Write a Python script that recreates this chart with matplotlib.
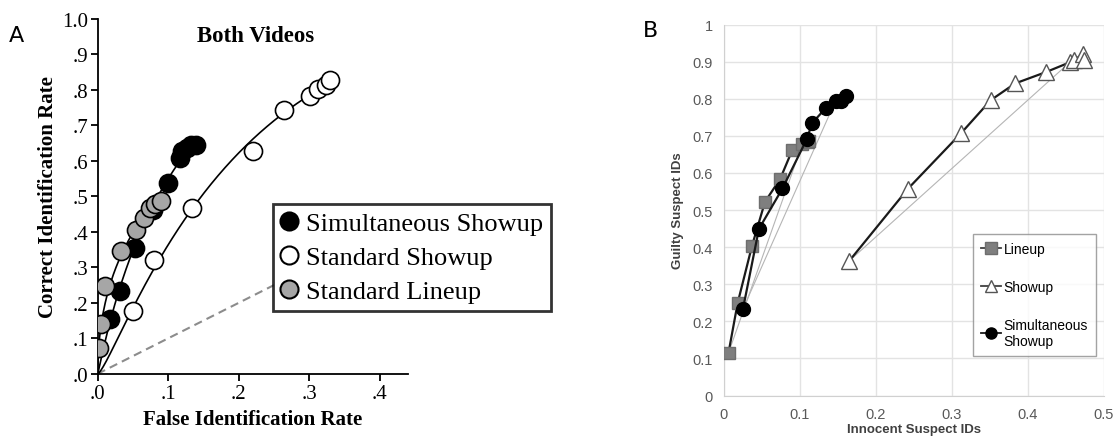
import numpy as np
import matplotlib
matplotlib.use("Agg")
import matplotlib.pyplot as plt
from matplotlib.lines import Line2D
from statistics import NormalDist

### Data ###
## Panel A - Both Videos ##
sim_x = [0.017, 0.032, 0.053, 0.079, 0.100, 0.116, 0.120, 0.126, 0.132, 0.139]
sim_y = [0.154, 0.234, 0.353, 0.460, 0.537, 0.607, 0.627, 0.637, 0.645, 0.645]
std_x = [0.050, 0.080, 0.134, 0.220, 0.264, 0.301, 0.312, 0.323, 0.329]
std_y = [0.176, 0.321, 0.466, 0.628, 0.744, 0.782, 0.802, 0.812, 0.826]
lin_x = [0.002, 0.005, 0.011, 0.033, 0.054, 0.066, 0.074, 0.081, 0.090]
lin_y = [0.072, 0.140, 0.246, 0.347, 0.405, 0.438, 0.466, 0.478, 0.488]
a_ticks = [0.0, 0.1, 0.2, 0.3, 0.4]
a_xlabels = ['.0', '.1', '.2', '.3', '.4']
a_yticks = [0.0, 0.1, 0.2, 0.3, 0.4, 0.5, 0.6, 0.7, 0.8, 0.9, 1.0]
a_ylabels = ['.0', '.1', '.2', '.3', '.4', '.5', '.6', '.7', '.8', '.9', '1.0']

## Panel B ##
b_lin_x = [0.006, 0.018, 0.037, 0.054, 0.074, 0.090, 0.103, 0.110, 0.112]
b_lin_y = [0.115, 0.249, 0.404, 0.522, 0.584, 0.662, 0.677, 0.684, 0.687]
b_show_x = [0.165, 0.242, 0.312, 0.351, 0.383, 0.424, 0.455, 0.461, 0.472, 0.474]
b_show_y = [0.363, 0.557, 0.707, 0.796, 0.841, 0.872, 0.898, 0.904, 0.920, 0.905]
b_sim_x = [0.025, 0.046, 0.077, 0.109, 0.116, 0.134, 0.147, 0.154, 0.160]
b_sim_y = [0.233, 0.449, 0.558, 0.691, 0.734, 0.775, 0.795, 0.795, 0.806]
b_xlabels = ['0', '0.1', '0.2', '0.3', '0.4', '0.5']
b_ylabels = ['0', '0.1', '0.2', '0.3', '0.4', '0.5', '0.6', '0.7', '0.8', '0.9', '1']


### Helpers ###
nd = NormalDist()

def zroc_curve(x, y):
    # linear fit in z-space, mapped back to ROC space
    zx = np.array([nd.inv_cdf(v) for v in x])
    zy = np.array([nd.inv_cdf(v) for v in y])
    b, a = np.polyfit(zx, zy, 1)
    xs = np.linspace(1e-4, max(x), 300)
    ys = np.array([nd.cdf(a + b * nd.inv_cdf(v)) for v in xs])
    return np.concatenate([[0], xs]), np.concatenate([[0], ys])


fig = plt.figure(figsize=(11.16, 4.39), dpi=100)
serif = 'Liberation Serif'
sans = 'Liberation Sans'

### Panel A ###
axA = fig.add_axes([0.0875, 0.1462, 0.2783, 0.809])
axA.plot([0, 0.25], [0, 0.25], ls='--', color='#8c8c8c', lw=1.5, dashes=(4, 2.5), zorder=1)

for xs, ys in [(std_x, std_y), (sim_x, sim_y), (lin_x, lin_y)]:
    cx, cy = zroc_curve(xs, ys)
    axA.plot(cx, cy, color='black', lw=1.2, zorder=2)

axA.plot(std_x, std_y, 'o', ms=13, mfc='white', mec='black', mew=1.2, zorder=3)
axA.plot(sim_x, sim_y, 'o', ms=13, mfc='black', mec='black', mew=1.2, zorder=4)
axA.plot(lin_x, lin_y, 'o', ms=13, mfc='#a6a6a6', mec='black', mew=1.2, zorder=5)

axA.set_xlim(0, 0.44)
axA.set_ylim(0, 1.0)
axA.set_xticks(a_ticks)
axA.set_xticklabels(a_xlabels, fontfamily=serif, fontsize=15)
axA.set_yticks(a_yticks)
axA.set_yticklabels(a_ylabels, fontfamily=serif, fontsize=15)
axA.tick_params(direction='out', length=5, width=1.3, pad=2)
for s in ['top', 'right']:
    axA.spines[s].set_visible(False)
for s in ['left', 'bottom']:
    axA.spines[s].set_linewidth(1.3)
axA.set_xlabel('False Identification Rate', fontfamily=serif, fontweight='bold', fontsize=15, labelpad=5)
axA.set_ylabel('Correct Identification Rate', fontfamily=serif, fontweight='bold', fontsize=15, labelpad=3)
axA.set_title('Both Videos', fontfamily=serif, fontweight='bold', fontsize=16.5, x=0.51, y=0.915)

handlesA = [Line2D([], [], ls='none', marker='o', ms=13, mfc=fc, mec='black', mew=1.5)
            for fc in ['black', 'white', '#a6a6a6']]
legA = fig.legend(handlesA, ['Simultaneous Showup', 'Standard Showup', 'Standard Lineup'],
                  loc='upper left', bbox_to_anchor=(273 / 1116, 1 - 205 / 439),
                  prop={'family': serif, 'size': 19}, frameon=True, fancybox=False,
                  edgecolor='black', handlelength=0.6, handletextpad=0.35,
                  borderpad=0.3, labelspacing=0.4, borderaxespad=0)
legA.get_frame().set_linewidth(2)

fig.text(0.008, 0.905, 'A', fontsize=16, fontfamily='DejaVu Sans')

### Panel B ###
axB = fig.add_axes([0.6487, 0.0968, 0.3405, 0.8451])
grid_c = '#e3e3e3'
axB.set_xlim(0, 0.5)
axB.set_ylim(0, 1)
axB.set_xticks(np.arange(0, 0.51, 0.1))
axB.set_yticks(np.arange(0, 1.01, 0.1))
axB.set_xticklabels(b_xlabels, fontfamily=sans)
axB.set_yticklabels(b_ylabels, fontfamily=sans)
axB.grid(True, color=grid_c, lw=1)
axB.set_axisbelow(True)
axB.tick_params(length=0, labelsize=10.5, labelcolor='#595959', pad=8)
for s in axB.spines.values():
    s.set_visible(False)
axB.spines['left'].set_visible(True)
axB.spines['bottom'].set_visible(True)
axB.spines['left'].set_color('#d0d0d0')
axB.spines['bottom'].set_color('#d0d0d0')

# chord lines (first to seventh point)
for xs, ys in [(b_lin_x, b_lin_y), (b_sim_x, b_sim_y), (b_show_x, b_show_y)]:
    axB.plot([xs[0], xs[6]], [ys[0], ys[6]], color='#b5b5b5', lw=0.8, zorder=2)

axB.plot(b_lin_x, b_lin_y, '-s', color='#1a1a1a', lw=1.6, ms=9, mfc='#7f7f7f', mec='#6e6e6e', zorder=3)
axB.plot(b_show_x, b_show_y, '-^', color='#1a1a1a', lw=1.6, ms=11, mfc='white', mec='#555555', mew=1, zorder=3)
axB.plot(b_sim_x, b_sim_y, '-o', color='#1a1a1a', lw=1.6, ms=10, mfc='black', mec='black', zorder=4)

axB.set_xlabel('Innocent Suspect IDs', fontfamily=sans, fontsize=9.5, fontweight='bold', color='#404040', labelpad=2)
axB.set_ylabel('Guilty Suspect IDs', fontfamily=sans, fontsize=9.5, fontweight='bold', color='#404040', labelpad=6)

handlesB = [Line2D([], [], color='#404040', lw=1.3, marker='s', ms=8, mfc='#7f7f7f', mec='#6e6e6e'),
            Line2D([], [], color='#404040', lw=1.3, marker='^', ms=8, mfc='white', mec='#555555'),
            Line2D([], [], color='#1a1a1a', lw=1.3, marker='o', ms=8, mfc='black', mec='black')]
legB = fig.legend(handlesB, ['Lineup', 'Showup', 'Simultaneous\nShowup'],
                  loc='upper left', bbox_to_anchor=(973 / 1116, 1 - 235 / 439),
                  prop={'family': sans, 'size': 10}, frameon=True, fancybox=False,
                  edgecolor='#8c8c8c', handlelength=1.4, handletextpad=0.2,
                  borderpad=0.6, labelspacing=1.7, borderaxespad=0)
legB.get_frame().set_linewidth(1)

fig.text(0.576, 0.915, 'B', fontsize=16, fontfamily='DejaVu Sans')

fig.savefig('out.png', dpi=100)
